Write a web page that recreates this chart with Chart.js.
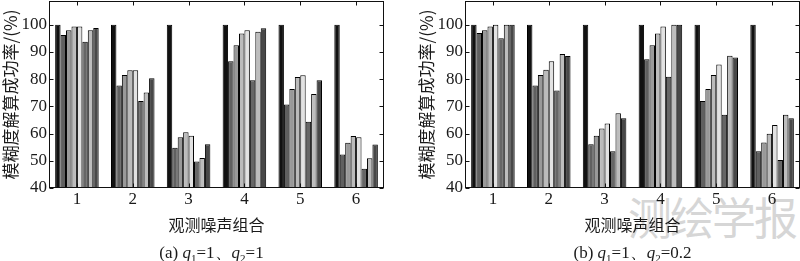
<!DOCTYPE html>
<html>
<head>
<meta charset="utf-8">
<script src="https://cdn.jsdelivr.net/npm/chart.js@4/dist/chart.umd.min.js"></script>
<style>
  body { margin: 0; background: #fff; }
  #wrap { position: relative; width: 800px; height: 261px; overflow: hidden; }
  canvas { position: absolute; top: 0; z-index: 1; }
  #chartA { left: 0; }
  #chartB { left: 416px; }
  .caption { position: absolute; top: 244px; width: 335px; text-align: center; z-index: 1;
             font-family: "Liberation Serif", serif; font-size: 17px; line-height: 18px; color: #1a1a1a; }
  .caption sub { font-size: 11px; }
  #mark { position: absolute; left: 628px; top: 191px; z-index: 0; font-family: "Noto Sans CJK SC", sans-serif;
          font-size: 44px; line-height: 50px; color: #d6d6d6; letter-spacing: -2px; }
</style>
</head>
<body>
<div id="wrap">
  <div id="mark">测绘学报</div>
  <canvas id="chartA" width="384" height="261"></canvas>
  <canvas id="chartB" width="384" height="261"></canvas>
  <div class="caption" style="left:44px">(a) <i>q</i><sub>1</sub>=1、<i>q</i><sub>2</sub>=1</div>
  <div class="caption" style="left:465px">(b) <i>q</i><sub>1</sub>=1、<i>q</i><sub>2</sub>=0.2</div>
</div>
<script>
// categorias (combinações de ruído) e marcas do eixo y
const groups = ['1', '2', '3', '4', '5', '6'];
const yTicks = [40, 50, 60, 70, 80, 90, 100];

// painel (a): q1=1, q2=1 -- uma lista por barra do grupo
const a1 = [100, 100, 100, 100, 100, 100];
const a2 = [96.2, 77.7, 54.8, 86.6, 70.7, 52.3];
const a3 = [98.0, 81.5, 58.6, 92.4, 76.4, 56.6];
const a4 = [99.3, 83.3, 60.5, 96.8, 80.8, 59.1];
const a5 = [99.3, 83.3, 59.2, 98.0, 81.4, 58.6];
const a6 = [93.7, 72.0, 49.7, 79.6, 64.3, 47.1];
const a7 = [98.0, 75.1, 51.0, 97.4, 74.5, 50.9];
const a8 = [98.8, 80.3, 56.1, 98.7, 79.6, 56.0];

// painel (b): q1=1, q2=0.2
const b1 = [100, 100, 100, 100, 100, 100];
const b2 = [96.9, 77.7, 56.1, 87.3, 72.0, 53.5];
const b3 = [98.0, 81.5, 59.2, 92.4, 76.4, 56.7];
const b4 = [99.3, 83.4, 61.9, 96.8, 81.5, 59.9];
const b5 = [100, 86.6, 63.7, 99.3, 85.4, 63.1];
const b6 = [95.0, 75.8, 53.5, 80.9, 66.9, 50.3];
const b7 = [100, 89.2, 67.5, 100, 88.6, 66.9];
const b8 = [100, 88.5, 65.6, 100, 87.9, 65.6];

// tons de cinza das 8 barras
const greys = ['#111111', '#606060', '#999999', '#bbbbbb', '#e2e2e2', '#666666', '#bdbdbd', '#484848'];

const serif = 'Liberation Serif';
const cjk = 'Noto Sans CJK SC';

// moldura + marcas de escala viradas para dentro (estilo MATLAB)
const framePlugin = {
  id: 'frame',
  afterDatasetsDraw(chart) {
    const {ctx, chartArea: a, scales} = chart;
    const L = Math.floor(a.left) + 0.5, R = Math.ceil(a.right) - 0.5;
    const T = Math.floor(a.top) + 0.5, B = Math.ceil(a.bottom) - 0.5;
    ctx.save();
    ctx.strokeStyle = '#111';
    ctx.lineWidth = 1;
    ctx.strokeRect(L, T, R - L, B - T);
    ctx.beginPath();
    yTicks.forEach(v => {
      const y = Math.round(scales.y.getPixelForValue(v)) + 0.5;
      ctx.moveTo(L, y); ctx.lineTo(L + 4, y);
      ctx.moveTo(R, y); ctx.lineTo(R - 4, y);
    });
    groups.forEach((g, i) => {
      const x = Math.round(scales.x.getPixelForValue(i)) + 0.5;
      ctx.moveTo(x, B); ctx.lineTo(x, B - 4);
      ctx.moveTo(x, T); ctx.lineTo(x, T + 4);
    });
    ctx.stroke();
    ctx.restore();
  }
};

function drawPanel(id, series) {
  const ctx = document.getElementById(id).getContext('2d');
  new Chart(ctx, {
    type: 'bar',
    data: {
      labels: groups,
      datasets: series.map((d, i) => ({
        data: d,
        backgroundColor: greys[i],
        borderColor: '#000',
        borderWidth: 1,
        borderSkipped: false,
        barPercentage: 1,
        categoryPercentage: 0.78
      }))
    },
    options: {
      responsive: false,
      animation: false,
      layout: { padding: { top: 1, bottom: 26, left: 0, right: 0 } },
      plugins: { legend: { display: false }, tooltip: { enabled: false } },
      scales: {
        x: {
          grid: { display: false, drawTicks: false },
          border: { display: false },
          ticks: { color: '#1a1a1a', font: { family: serif, size: 17 }, padding: 1, maxRotation: 0 },
          title: { display: true, text: '观测噪声组合', color: '#1a1a1a', font: { family: cjk, size: 16 }, padding: 0 },
          afterFit: s => { s.height = 47; s.paddingLeft = 0; s.paddingRight = 0; }
        },
        y: {
          min: 40,
          max: 108.7,
          afterBuildTicks: s => { s.ticks = yTicks.map(v => ({ value: v })); },
          grid: { display: false, drawTicks: false },
          border: { display: false },
          ticks: { color: '#1a1a1a', font: { family: serif, size: 17 }, padding: 2 },
          title: { display: true, text: '模糊度解算成功率/(%)', color: '#1a1a1a', font: { family: cjk, size: 17 }, padding: 0 },
          afterFit: s => { s.width = 49; s.paddingTop = 0; s.paddingBottom = 0; }
        }
      }
    },
    plugins: [framePlugin]
  });
}

drawPanel('chartA', [a1, a2, a3, a4, a5, a6, a7, a8]);
drawPanel('chartB', [b1, b2, b3, b4, b5, b6, b7, b8]);
</script>
</body>
</html>
